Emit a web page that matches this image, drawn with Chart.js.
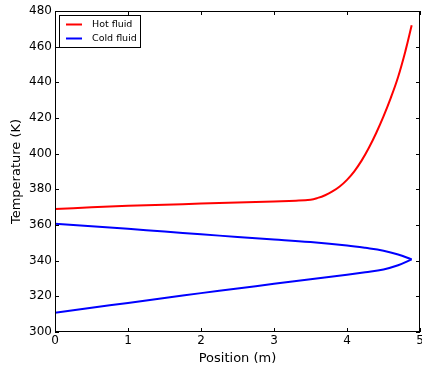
<!DOCTYPE html>
<html><head><meta charset="utf-8">
<script src="https://cdn.jsdelivr.net/npm/chart.js@4"></script>
<style>html,body{margin:0;padding:0;overflow:hidden;background:#fff}#wrap{width:422px;height:368px}</style>
</head><body><div id="wrap"><canvas id="c" width="422" height="368"></canvas></div>
<script>
const hotX = [0, 0.5, 1, 1.5, 2, 2.5, 3, 3.3, 3.5, 3.6, 3.7, 3.8, 3.9, 4.0, 4.1, 4.2, 4.3, 4.4, 4.5, 4.6, 4.7, 4.8, 4.886];
const hotT = [369, 369.9, 370.8, 371.4, 372.0, 372.6, 373.2, 373.6, 374.2, 375.2, 376.7, 378.8, 381.6, 385.3, 390.1, 396.1, 403.3, 411.6, 420.9, 431.3, 443.0, 457.5, 472];
const coldX = [0, 0.5, 1, 1.5, 2, 2.5, 3, 3.5, 4, 4.25, 4.5, 4.7, 4.886];
const coldUpperT = [360.7, 359.3, 357.9, 356.3, 354.8, 353.3, 351.9, 350.4, 348.5, 347.2, 345.6, 343.5, 340.7];
const coldLowerT = [310.8, 313.6, 316.3, 319.1, 321.8, 324.4, 327, 329.6, 332.1, 333.5, 335.1, 337.4, 340.7];
const xTicks = [0, 1, 2, 3, 4, 5];
const yTicks = [300, 320, 340, 360, 380, 400, 420, 440, 460, 480];
const legendLabels = ['Hot fluid', 'Cold fluid'];
const FONT = "'DejaVu Sans', sans-serif";

const pts = (xs, ys) => xs.map((x, i) => ({x, y: ys[i]}));

const framePlugin = {
  id: 'frame',
  afterDatasetsDraw(chart) {
    const {ctx, chartArea: a, scales: {x, y}} = chart;
    ctx.save();
    ctx.strokeStyle = '#000';
    ctx.lineWidth = 1;
    ctx.beginPath();
    xTicks.forEach(v => {
      const px = Math.round(x.getPixelForValue(v)) + 0.5;
      ctx.moveTo(px, a.bottom); ctx.lineTo(px, a.bottom - 4);
      ctx.moveTo(px, a.top); ctx.lineTo(px, a.top + 4);
    });
    yTicks.forEach(v => {
      const py = Math.round(y.getPixelForValue(v)) + 0.5;
      ctx.moveTo(a.left, py); ctx.lineTo(a.left + 4, py);
      ctx.moveTo(a.right, py); ctx.lineTo(a.right - 4, py);
    });
    ctx.stroke();
    ctx.strokeRect(Math.round(a.left) + 0.5, Math.round(a.top) + 0.5, Math.round(a.right - a.left) - 1, Math.round(a.bottom - a.top) - 1);
    // legend
    const lx = 59.5, ly = 15.5, lw = 81, lh = 32;
    ctx.fillStyle = '#fff';
    ctx.fillRect(lx, ly, lw, lh);
    ctx.strokeRect(lx, ly, lw, lh);
    ctx.font = '9.5px ' + FONT;
    ctx.textBaseline = 'middle';
    ctx.textAlign = 'left';
    legendLabels.forEach((lab, i) => {
      const ds = chart.data.datasets[i];
      const yy = 24.5 + i * 14;
      ctx.strokeStyle = ds.borderColor;
      ctx.lineWidth = 2;
      ctx.beginPath(); ctx.moveTo(66, yy); ctx.lineTo(82, yy); ctx.stroke();
      ctx.fillStyle = '#000';
      ctx.fillText(lab, 92, yy + 0.5);
    });
    ctx.restore();
  }
};

new Chart(document.getElementById('c'), {
  type: 'scatter',
  data: {
    datasets: [
      {label: legendLabels[0], data: pts(hotX, hotT), borderColor: '#ff0000'},
      {label: legendLabels[1], data: pts(coldX, coldUpperT), borderColor: '#0000ff'},
      {label: legendLabels[1] + ' (return)', data: pts(coldX, coldLowerT), borderColor: '#0000ff'}
    ]
  },
  options: {
    responsive: false,
    animation: false,
    devicePixelRatio: 1,
    showLine: true,
    elements: {
      point: {radius: 0, hoverRadius: 0},
      line: {borderWidth: 2, fill: false, tension: 0.4, capBezierPoints: true}
    },
    layout: {padding: {top: 11, right: 2, bottom: 0, left: 0}},
    plugins: {legend: {display: false}, tooltip: {enabled: false}},
    scales: {
      x: {
        type: 'linear', position: 'bottom', min: 0, max: 5,
        afterBuildTicks: s => { s.ticks = xTicks.map(v => ({value: v})); },
        ticks: {color: '#000', font: {family: FONT, size: 12}, padding: 2, maxRotation: 0, autoSkip: false},
        grid: {display: false, drawTicks: false}, border: {display: false},
        title: {display: true, text: 'Position (m)', color: '#000', font: {family: FONT, size: 13}, padding: {top: 0, bottom: 2}},
        afterFit: s => { s.height = 36; s.paddingLeft = 0; s.paddingRight = 0; }
      },
      y: {
        type: 'linear', position: 'left', min: 300, max: 480,
        afterBuildTicks: s => { s.ticks = yTicks.map(v => ({value: v})); },
        ticks: {color: '#000', font: {family: FONT, size: 12}, padding: 3, autoSkip: false},
        grid: {display: false, drawTicks: false}, border: {display: false},
        title: {display: true, text: 'Temperature (K)', color: '#000', font: {family: FONT, size: 13}, padding: {top: 9, bottom: 0}},
        afterFit: s => { s.width = 55; s.paddingTop = 0; s.paddingBottom = 0; }
      }
    }
  },
  plugins: [framePlugin]
});
</script></body></html>
